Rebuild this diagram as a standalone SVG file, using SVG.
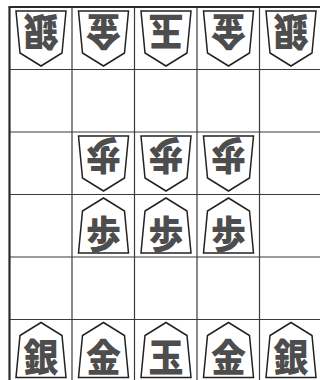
<svg xmlns="http://www.w3.org/2000/svg" xmlns:xlink="http://www.w3.org/1999/xlink" width="320" height="380" viewBox="0 0 320 380">
<style>
.grid{stroke:#3a3a3a;stroke-width:1.2;fill:none}
.edge{stroke:#2a2a2a;stroke-width:2.2;fill:none}
.pc{fill:#ffffff;stroke:#222;stroke-width:1.5;stroke-linejoin:miter}
.ch{font-family:"Noto Sans CJK JP","Noto Sans CJK SC",sans-serif;font-weight:900;font-size:35px;fill:#4d4d4d;text-anchor:middle;dominant-baseline:central}
</style>
<defs>
<path id="piece" class="pc" d="M0,-27.5 L21,-14.5 L25,27.5 L-25,27.5 L-21,-14.5 Z"/>
</defs>
<rect x="0" y="0" width="320" height="380" fill="#ffffff"/>
<g id="board">
<line class="grid" x1="72" y1="7" x2="72" y2="380"/>
<line class="grid" x1="134.5" y1="7" x2="134.5" y2="380"/>
<line class="grid" x1="197" y1="7" x2="197" y2="380"/>
<line class="grid" x1="259.5" y1="7" x2="259.5" y2="380"/>
<line class="grid" x1="9" y1="69.5" x2="320" y2="69.5"/>
<line class="grid" x1="9" y1="132" x2="320" y2="132"/>
<line class="grid" x1="9" y1="194.5" x2="320" y2="194.5"/>
<line class="grid" x1="9" y1="257" x2="320" y2="257"/>
<line class="grid" x1="9" y1="319.5" x2="320" y2="319.5"/>
<line class="edge" x1="9.5" y1="7" x2="9.5" y2="380"/>
<line class="edge" x1="8.5" y1="7" x2="320" y2="7"/>
</g>
<g id="connectors"></g>
<g id="g-gin1" transform="translate(41,38.5) rotate(180)"><use xlink:href="#piece" href="#piece"/><text class="ch" x="0" y="4" transform="scale(1,1.08)">銀</text></g>
<g id="g-kin1" transform="translate(103.5,38.5) rotate(180)"><use xlink:href="#piece" href="#piece"/><text class="ch" x="0" y="4" transform="scale(1,1.08)">金</text></g>
<g id="g-gyoku" transform="translate(166,38.5) rotate(180)"><use xlink:href="#piece" href="#piece"/><text class="ch" x="0" y="4" transform="scale(1,1.08)">玉</text></g>
<g id="g-kin2" transform="translate(228.5,38.5) rotate(180)"><use xlink:href="#piece" href="#piece"/><text class="ch" x="0" y="4" transform="scale(1,1.08)">金</text></g>
<g id="g-gin2" transform="translate(291,38.5) rotate(180)"><use xlink:href="#piece" href="#piece"/><text class="ch" x="0" y="4" transform="scale(1,1.08)">銀</text></g>
<g id="g-fu1" transform="translate(103.5,163.5) rotate(180)"><use xlink:href="#piece" href="#piece"/><text class="ch" x="0" y="4.5" transform="scale(1,1.08)">歩</text></g>
<g id="g-fu2" transform="translate(166,163.5) rotate(180)"><use xlink:href="#piece" href="#piece"/><text class="ch" x="0" y="4.5" transform="scale(1,1.08)">歩</text></g>
<g id="g-fu3" transform="translate(228.5,163.5) rotate(180)"><use xlink:href="#piece" href="#piece"/><text class="ch" x="0" y="4.5" transform="scale(1,1.08)">歩</text></g>
<g id="s-fu1" transform="translate(103.5,225.5)"><use xlink:href="#piece" href="#piece"/><text class="ch" x="0" y="5" transform="scale(1,1.08)">歩</text></g>
<g id="s-fu2" transform="translate(166,225.5)"><use xlink:href="#piece" href="#piece"/><text class="ch" x="0" y="5" transform="scale(1,1.08)">歩</text></g>
<g id="s-fu3" transform="translate(228.5,225.5)"><use xlink:href="#piece" href="#piece"/><text class="ch" x="0" y="5" transform="scale(1,1.08)">歩</text></g>
<g id="s-gin1" transform="translate(41,350)"><use xlink:href="#piece" href="#piece"/><text class="ch" x="0" y="4" transform="scale(1,1.08)">銀</text></g>
<g id="s-kin1" transform="translate(103.5,350)"><use xlink:href="#piece" href="#piece"/><text class="ch" x="0" y="4" transform="scale(1,1.08)">金</text></g>
<g id="s-gyoku" transform="translate(166,350)"><use xlink:href="#piece" href="#piece"/><text class="ch" x="0" y="4" transform="scale(1,1.08)">玉</text></g>
<g id="s-kin2" transform="translate(228.5,350)"><use xlink:href="#piece" href="#piece"/><text class="ch" x="0" y="4" transform="scale(1,1.08)">金</text></g>
<g id="s-gin2" transform="translate(291,350)"><use xlink:href="#piece" href="#piece"/><text class="ch" x="0" y="4" transform="scale(1,1.08)">銀</text></g>
</svg>
